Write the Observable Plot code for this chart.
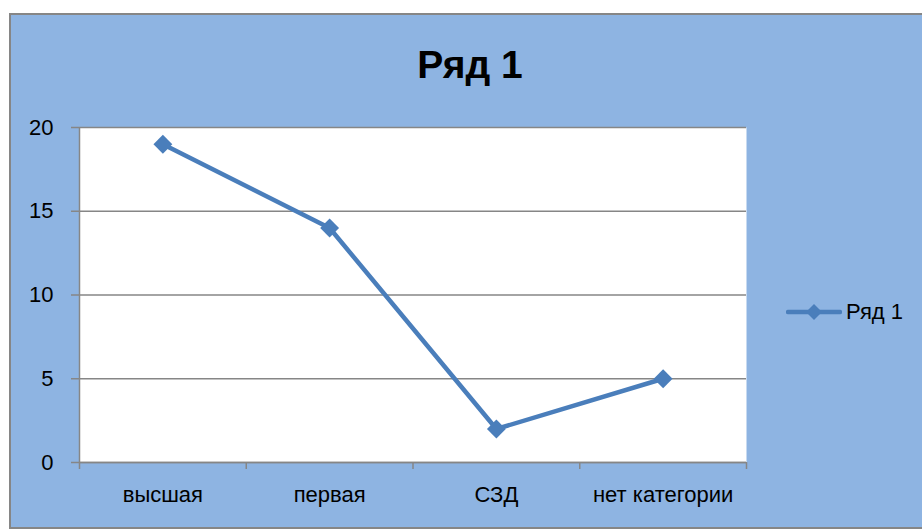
<!DOCTYPE html>
<html>
<head>
<meta charset="utf-8">
<script src="https://cdn.jsdelivr.net/npm/d3@7"></script>
<script src="https://cdn.jsdelivr.net/npm/@observablehq/plot@0.6"></script>
<style>
  html, body { margin: 0; padding: 0; background: #ffffff; }
  #wrap { position: relative; width: 922px; height: 529px; overflow: hidden; font-family: "Liberation Sans", Arial, sans-serif; }
  #box { position: absolute; left: 9px; top: 13px; width: 940px; height: 512px; background: #8EB4E2; border: 2px solid #868686; }
  #chart { position: absolute; left: 0; top: 0; }
  #title { position: absolute; left: 0; width: 940px; top: 43px; text-align: center; font-weight: bold; font-size: 39px; color: #000; }
  #legend { position: absolute; left: 786px; top: 299px; display: flex; align-items: center; font-size: 22px; color: #000; }
</style>
</head>
<body>
<div id="wrap">
  <div id="box"></div>
  <div id="chart"></div>
  <div id="title"></div>
  <div id="legend"></div>
</div>
<script>
const categories = ["высшая", "первая", "СЗД", "нет категории"];
const values = [19, 14, 2, 5];
const yTicks = [0, 5, 10, 15, 20];
const seriesName = "Ряд 1";
const chartTitle = "Ряд 1";

const lineColor = "#4A7EBB";
const gridColor = "#868686";

const data = categories.map((c, i) => ({cat: c, i, v: values[i]}));

const plot = Plot.plot({
  width: 922,
  height: 529,
  marginLeft: 79,
  marginRight: 176,
  marginTop: 127,
  marginBottom: 67,
  style: {background: "transparent", fontFamily: "'Liberation Sans', Arial, sans-serif", fontSize: "22px", color: "#000"},
  x: {type: "linear", domain: [0, categories.length]},
  y: {domain: [0, 20]},
  marks: [
    Plot.frame({fill: "white", stroke: null}),
    Plot.gridY(yTicks, {stroke: gridColor, strokeOpacity: 1, strokeWidth: 1.5}),
    Plot.ruleX([0], {stroke: gridColor, strokeWidth: 1.5}),
    Plot.ruleY([0], {stroke: gridColor, strokeWidth: 1.5}),
    Plot.axisY({ticks: yTicks, tickSize: 8, tickPadding: 18, label: null, stroke: gridColor, strokeWidth: 1.5, fill: "#000"}),
    Plot.axisX({ticks: d3.range(categories.length + 1), tickSize: 7, tickFormat: () => "", label: null, stroke: gridColor, strokeWidth: 1.5}),
    Plot.axisX({ticks: categories.map((c, i) => i + 0.5), tickSize: 0, tickPadding: 24, tickFormat: d => categories[Math.floor(d)], label: null, fill: "#000"}),
    Plot.line(data, {x: d => d.i + 0.5, y: "v", stroke: lineColor, strokeWidth: 4.5}),
    Plot.dot(data, {x: d => d.i + 0.5, y: "v", symbol: "diamond2", r: 8.5, fill: lineColor, stroke: null})
  ]
});
document.getElementById("chart").appendChild(plot);
document.getElementById("title").textContent = chartTitle;

const legend = document.getElementById("legend");
legend.innerHTML = `<svg width="56" height="24" style="margin-right:4px"><line x1="2" y1="12" x2="54" y2="12" stroke="${lineColor}" stroke-width="4.5" stroke-linecap="round"/><path d="M28,4 L36,12 L28,20 L20,12 Z" fill="${lineColor}"/></svg><span></span>`;
legend.querySelector("span").textContent = seriesName;
</script>
</body>
</html>
